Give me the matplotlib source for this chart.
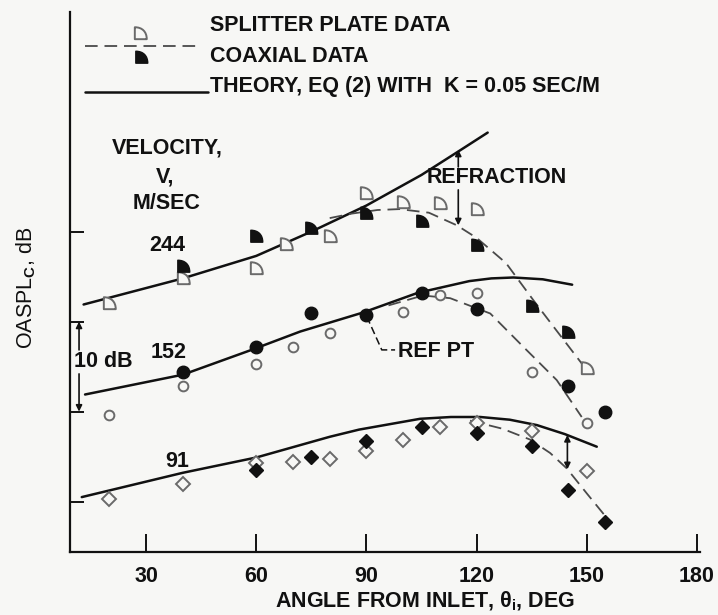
"""
OASPL directivity: splitter plate vs coaxial data with theory curves (three jet velocities).
"""
import matplotlib
matplotlib.use("Agg")
import matplotlib.pyplot as plt
from matplotlib.path import Path

plt.rcParams["font.family"] = ["Liberation Sans", "DejaVu Sans"]
plt.rcParams["font.weight"] = "bold"
plt.rcParams["mathtext.fontset"] = "custom"
plt.rcParams["mathtext.rm"] = "Liberation Sans:bold"
plt.rcParams["mathtext.it"] = "Liberation Sans:bold"

# ---- data (angle, deg ; level, dB above the lowest tick) ----
# V = 244 m/s
split244_ang = [20, 40, 60, 68, 80, 90, 100, 110, 120, 150]
split244_db = [22.1, 24.9, 26.0, 28.6, 29.5, 34.3, 33.3, 33.2, 32.5, 14.8]
coax244_ang = [40, 60, 75, 90, 105, 120, 135, 145]
coax244_db = [26.2, 29.5, 30.4, 32.1, 31.2, 28.5, 21.7, 18.9]
theory244_ang = [13, 40, 60, 75, 90, 105, 115, 123]
theory244_db = [21.9, 24.8, 27.3, 30.0, 32.9, 36.3, 38.9, 41.0]
fit244_ang = [80, 86, 93, 99, 107, 114.6, 120, 128, 135.4, 141, 150]
fit244_db = [31.5, 32.0, 32.4, 32.5, 32.1, 30.7, 29.3, 26.5, 22.4, 19.4, 14.6]

# V = 152 m/s
split152_ang = [20, 40, 60, 70, 80, 100, 110, 120, 135, 150]
split152_db = [9.6, 12.9, 15.3, 17.2, 18.7, 21.1, 23.0, 23.2, 14.4, 8.7]
coax152_ang = [40, 60, 75, 90, 105, 120, 145, 155]
coax152_db = [14.4, 17.2, 21.0, 20.7, 23.2, 21.4, 12.8, 10.0]
theory152_ang = [13.4, 40, 59, 72, 89, 104, 118, 124, 130, 138, 146]
theory152_db = [11.9, 14.1, 16.9, 18.9, 21.0, 23.2, 24.5, 24.8, 24.9, 24.7, 24.1]
fit152_ang = [96, 105.4, 112.8, 123.7, 132.7, 141.8, 148.6]
fit152_db = [21.8, 22.9, 22.6, 20.9, 17.2, 13.5, 9.4]

# V = 91 m/s
split91_ang = [20, 40, 60, 70, 80, 90, 100, 110, 120, 135, 150]
split91_db = [0.3, 2.0, 4.3, 4.4, 4.7, 5.6, 6.9, 8.3, 8.7, 7.9, 3.4]
coax91_ang = [60, 75, 90, 105, 120, 135, 145, 155]
coax91_db = [3.5, 5.0, 6.7, 8.3, 7.6, 6.2, 1.3, -2.3]
theory91_ang = [12.5, 40, 60, 80, 88, 104.6, 113, 121, 129, 136.4, 144, 152.7]
theory91_db = [0.5, 3.2, 4.9, 7.2, 8.0, 9.2, 9.4, 9.4, 9.1, 8.5, 7.5, 6.1]
fit91_ang = [118.2, 127, 134.5, 140, 144.5, 150, 155.4]
fit91_db = [9.0, 8.1, 6.9, 5.4, 3.7, 0.9, -1.8]

x_ticks = [30, 60, 90, 120, 150, 180]
y_ticks = [0, 10, 20, 30]

BG = "#f7f7f5"
INK = "#111111"
GREY = "#6a6a6a"
FS = 15.5

# quarter-round "D" marker used for splitter / coaxial data at 244 m/s
qverts = [(-0.5, -0.5), (0.55, -0.5), (0.55, 0.15), (0.15, 0.55), (-0.5, 0.55), (-0.5, -0.5)]
qcodes = [Path.MOVETO, Path.LINETO, Path.CURVE4, Path.CURVE4, Path.CURVE4, Path.CLOSEPOLY]
QMARK = Path(qverts, qcodes)

fig = plt.figure(figsize=(7.18, 6.15), dpi=100, facecolor=BG)
ax = fig.add_axes([70 / 718, 63 / 615, 630 / 718, 540 / 615])
ax.set_facecolor(BG)
ax.set_xlim(9.3, 180.8)
ax.set_ylim(-5.6, 54.4)


def px(x, y):
    # layout helper: picture pixel -> data coords
    return (x - 35.8) / 3.673, (501.7 - y) / 9.0


solid = dict(color=INK, lw=1.8, solid_capstyle="round", solid_joinstyle="round")
dash = dict(color="#4a4a4a", lw=1.3, dashes=(7, 3.8))

# theory and fairing curves
for a, d in [(theory244_ang, theory244_db), (theory152_ang, theory152_db), (theory91_ang, theory91_db)]:
    ax.plot(a, d, **solid)
for a, d in [(fit244_ang, fit244_db), (fit152_ang, fit152_db), (fit91_ang, fit91_db)]:
    ax.plot(a, d, **dash)

# data points
ax.plot(split244_ang, split244_db, ls="none", marker=QMARK, ms=9, mfc=BG, mec=GREY, mew=1.4)
ax.plot(coax244_ang, coax244_db, ls="none", marker=QMARK, ms=9, mfc=INK, mec=INK)
ax.plot(split152_ang, split152_db, ls="none", marker="o", ms=7, mfc=BG, mec=GREY, mew=1.4)
ax.plot(coax152_ang, coax152_db, ls="none", marker="o", ms=9, mfc=INK, mec=INK)
ax.plot(split91_ang, split91_db, ls="none", marker="D", ms=7, mfc=BG, mec=GREY, mew=1.4)
ax.plot(coax91_ang, coax91_db, ls="none", marker="D", ms=7.5, mfc=INK, mec=INK)

# axes styling
for s in ["top", "right"]:
    ax.spines[s].set_visible(False)
for s in ["left", "bottom"]:
    ax.spines[s].set_linewidth(1.6)
    ax.spines[s].set_color(INK)
ax.set_xticks(x_ticks)
ax.set_xticklabels([str(t) for t in x_ticks])
ax.set_yticks(y_ticks)
ax.tick_params(axis="x", direction="in", length=13, width=1.4, pad=10, labelsize=FS, colors=INK)
ax.tick_params(axis="y", direction="in", length=10, width=1.4, labelleft=False, colors=INK)

ax.set_ylabel(r"OASPL$_{\rm C}$, dB", fontsize=FS, color=INK)
ax.yaxis.set_label_coords(-0.05, 0.49)
fig.text(425 / 718, 1 - 601 / 615, r"ANGLE FROM INLET, $\theta_{\rm i}$, DEG",
         fontsize=FS, color=INK, ha="center", va="center")

# legend (hand drawn like the original)
x0, yl = px(85, 46)
x1, _ = px(197, 46)
ax.plot([x0, x1], [yl, yl], **dash)
ax.plot(*px(140, 33), marker=QMARK, ms=9, mfc=BG, mec=GREY, mew=1.4)
ax.plot(*px(141, 57), marker=QMARK, ms=9, mfc=INK, mec=INK)
x0, yl = px(85, 92)
x1, _ = px(208, 92)
ax.plot([x0, x1], [yl, yl], **solid)
ax.text(*px(210, 26), "SPLITTER PLATE DATA", fontsize=FS, color=INK, va="center", ha="left")
ax.text(*px(210, 57), "COAXIAL DATA", fontsize=FS, color=INK, va="center", ha="left")
ax.text(*px(210, 87), "THEORY, EQ (2) WITH  K = 0.05 SEC/M", fontsize=FS, color=INK, va="center", ha="left")

# velocity labels
ax.text(*px(167, 148), "VELOCITY,", fontsize=FS, color=INK, ha="center", va="center")
ax.text(*px(165, 177), "V,", fontsize=FS, color=INK, ha="center", va="center")
ax.text(*px(167, 204), "M/SEC", fontsize=FS, color=INK, ha="center", va="center")
ax.text(*px(167, 246), "244", fontsize=FS, color=INK, ha="center", va="center")
ax.text(*px(169, 353), "152", fontsize=FS, color=INK, ha="center", va="center")
ax.text(*px(177, 462), "91", fontsize=FS, color=INK, ha="center", va="center")

# 10 dB bracket
arr = dict(arrowstyle="-|>", color=INK, lw=1.2, mutation_scale=9, shrinkA=0, shrinkB=0)
bx, _ = px(79, 0)
ax.annotate("", xy=(bx, 20), xytext=(bx, px(0, 350)[1]), arrowprops=arr)
ax.annotate("", xy=(bx, 10), xytext=(bx, px(0, 374)[1]), arrowprops=arr)
ax.text(*px(103, 362), "10 dB", fontsize=FS, color=INK, ha="center", va="center")

# refraction arrows
ax.text(*px(497, 178), "REFRACTION", fontsize=FS, color=INK, ha="center", va="center")
ax.annotate("", xy=(115, 39.1), xytext=(115, px(0, 167)[1]), arrowprops=arr)
ax.annotate("", xy=(115, 30.7), xytext=(115, px(0, 190)[1]), arrowprops=arr)
ax.annotate("", xy=(144.7, 7.4), xytext=(144.7, 3.6),
            arrowprops=dict(arrowstyle="<|-|>", color=INK, lw=1.2, mutation_scale=9, shrinkA=0, shrinkB=0))

# reference point callout
lx = [px(366.7, 316.7)[0], px(381.7, 350)[0], px(395, 350)[0]]
ly = [px(366.7, 316.7)[1], px(381.7, 350)[1], px(395, 350)[1]]
ax.plot(lx, ly, color=INK, lw=1.1, dashes=(5, 2.5))
ax.text(*px(398, 352), "REF PT", fontsize=FS, color=INK, ha="left", va="center")

fig.savefig("out.png", dpi=100, facecolor=BG)
plt.close(fig)
